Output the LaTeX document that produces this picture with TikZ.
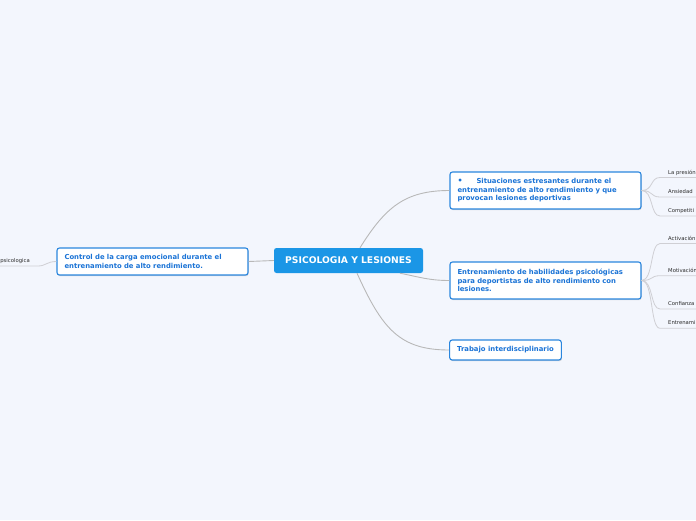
\documentclass[tikz,border=0pt]{standalone}
\usepackage{fontspec}
\setmainfont{DejaVu Sans}
\usetikzlibrary{shadows,calc}
\definecolor{bgc}{HTML}{F3F6FD}
\definecolor{mainblue}{HTML}{1B96E6}
\definecolor{bordblue}{HTML}{2A86DE}
\definecolor{txtblue}{HTML}{1A73D6}
\definecolor{lineg}{HTML}{B8B8B8}
\definecolor{subg}{HTML}{CFCFD4}
\definecolor{subtxt}{HTML}{2A2A2A}
\tikzset{
  mainbox/.style={fill=mainblue, rounded corners=2.5pt, text=white,
    font=\fontsize{9.2}{11}\selectfont\bfseries, inner sep=0pt,
    minimum width=149pt, minimum height=25pt},
  topicbox/.style={draw=bordblue, line width=1.1pt, fill=white, rounded corners=2.5pt,
    text=txtblue, font=\fontsize{6.85}{8.5}\selectfont\bfseries, align=left,
    inner xsep=7.5pt, inner ysep=0pt,
    drop shadow={shadow xshift=0.6pt, shadow yshift=-1.2pt, opacity=0.3, fill=gray}},
  conn/.style={draw=lineg, line width=0.9pt},
  subconn/.style={draw=subg, line width=0.8pt},
  sublabel/.style={text=subtxt, font=\fontsize{5.3}{6}\selectfont, inner sep=0pt}
}
\begin{document}
\begin{tikzpicture}[x=1pt,y=-1pt]
\fill[bgc] (0,0) rectangle (696,520);
\useasboundingbox (0,0) rectangle (696,520);

% main node
\node[mainbox] (c) at (348.5,260.5) {PSICOLOGIA Y LESIONES};

% topics
\node[topicbox, minimum width=191pt, minimum height=37pt, text width=176pt] (A) at (545.5,190.5)
  {\makebox[19pt][l]{\fontsize{8}{8}\selectfont•}Situaciones estresantes durante el\\entrenamiento de alto rendimiento y que\\provocan lesiones deportivas};
\node[topicbox, minimum width=191pt, minimum height=37pt, text width=176pt] (B) at (545.5,280.5)
  {Entrenamiento de habilidades psicológicas\\para deportistas de alto rendimiento con\\lesiones.};
\node[topicbox, minimum width=111pt, minimum height=20pt] (C) at (505.5,350)
  {Trabajo interdisciplinario};
\node[topicbox, minimum width=191pt, minimum height=27pt, text width=176pt] (L) at (152.5,261.5)
  {Control de la carga emocional durante el\\entrenamiento de alto rendimiento.};

% main connectors
\draw[conn] ($(c.north)+(11.5,0)$) .. controls +(25,-40) and +(-45,0) .. (A.west);
\draw[conn] ($(c.south)+(51.5,0)$) .. controls +(20,4) and +(-20,0) .. (B.west);
\draw[conn] ($(c.south)+(8.5,0)$) .. controls +(25,55) and +(-50,0) .. (C.west);
\draw[conn] (c.west) -- (L.east);

% sub-topics of A
\coordinate (s1) at (660,177.5);
\coordinate (s2) at (660,197);
\coordinate (s3) at (660,216);
\node[sublabel, anchor=base west] (t1) at ($(s1)+(8,-3.5)$) {La presión};
\node[sublabel, anchor=base west] (t2) at ($(s2)+(8,-3.5)$) {Ansiedad};
\node[sublabel, anchor=base west] (t3) at ($(s3)+(8,-3.5)$) {Competiti};
\foreach \s in {s1,s2,s3}{
  \draw[subconn] (A.east) .. controls +(12,0) and +(-10,0) .. (\s) -- ++(45,0);
}

% sub-topics of B
\coordinate (u1) at (660,243.5);
\coordinate (u2) at (660,275.7);
\coordinate (u3) at (660,309);
\coordinate (u4) at (660,328.3);
\node[sublabel, anchor=base west] (v1) at ($(u1)+(8,-3.5)$) {Activación};
\node[sublabel, anchor=base west] (v2) at ($(u2)+(8,-3.5)$) {Motivación};
\node[sublabel, anchor=base west] (v3) at ($(u3)+(8,-3.5)$) {Confianza};
\node[sublabel, anchor=base west] (v4) at ($(u4)+(8,-3.5)$) {Entrenami};
\foreach \s in {u1,u2,u3,u4}{
  \draw[subconn] (B.east) .. controls +(12,0) and +(-10,0) .. (\s) -- ++(45,0);
}

% sub-topic of L
\coordinate (sl) at (38,266);
\node[sublabel, anchor=base east] (tl) at ($(sl)+(-8,-3.5)$) {psicologica};
\draw[subconn] (L.west) .. controls +(-10,0) and +(8,0) .. (sl) -- ++(-45,0);
\end{tikzpicture}
\end{document}
